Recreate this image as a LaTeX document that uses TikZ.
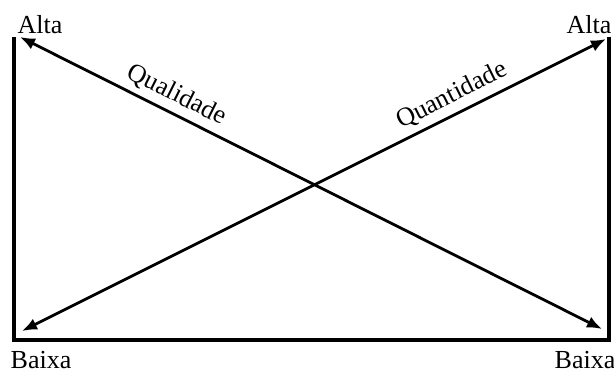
\documentclass[tikz,border=0pt]{standalone}
\usepackage{fontspec}
\setmainfont{Liberation Serif}
\usetikzlibrary{arrows.meta}

\begin{document}
\begin{tikzpicture}[x=0.5pt,y=0.5pt,
    eixo/.style={line width=1.6pt},
    seta/.style={line width=1.4pt,{Latex[length=7.5pt,width=6pt]}-{Latex[length=7.5pt,width=6pt]}},
    rotulo/.style={font=\fontsize{13}{15}\selectfont,inner sep=0pt}]
\useasboundingbox (0,0) rectangle (614,371);
% eixos
\coordinate (cse) at (14,334);
\coordinate (cie) at (14,31);
\coordinate (cid) at (609,31);
\coordinate (csd) at (609,334);
\draw[eixo] (cse) -- (cie) -- (cid) -- (csd);
% extremos das setas
\coordinate (q1) at (20,334);
\coordinate (q2) at (602,42);
\coordinate (n1) at (22,40);
\coordinate (n2) at (606,332);
\draw[seta] (q1) -- node[pos=0.255,sloped,above,rotulo,inner sep=3pt] (qual) {Qualidade} (q2);
\draw[seta] (n1) -- node[pos=0.75,sloped,above,rotulo,inner sep=3pt] (quant) {Quantidade} (n2);
% rotulos
\node[rotulo,anchor=base] (altaE) at (40,338) {Alta};
\node[rotulo,anchor=base] (altaD) at (589,338) {Alta};
\node[rotulo,anchor=base] (baixaE) at (41,3) {Baixa};
\node[rotulo,anchor=base] (baixaD) at (585,3) {Baixa};
\end{tikzpicture}
\end{document}
